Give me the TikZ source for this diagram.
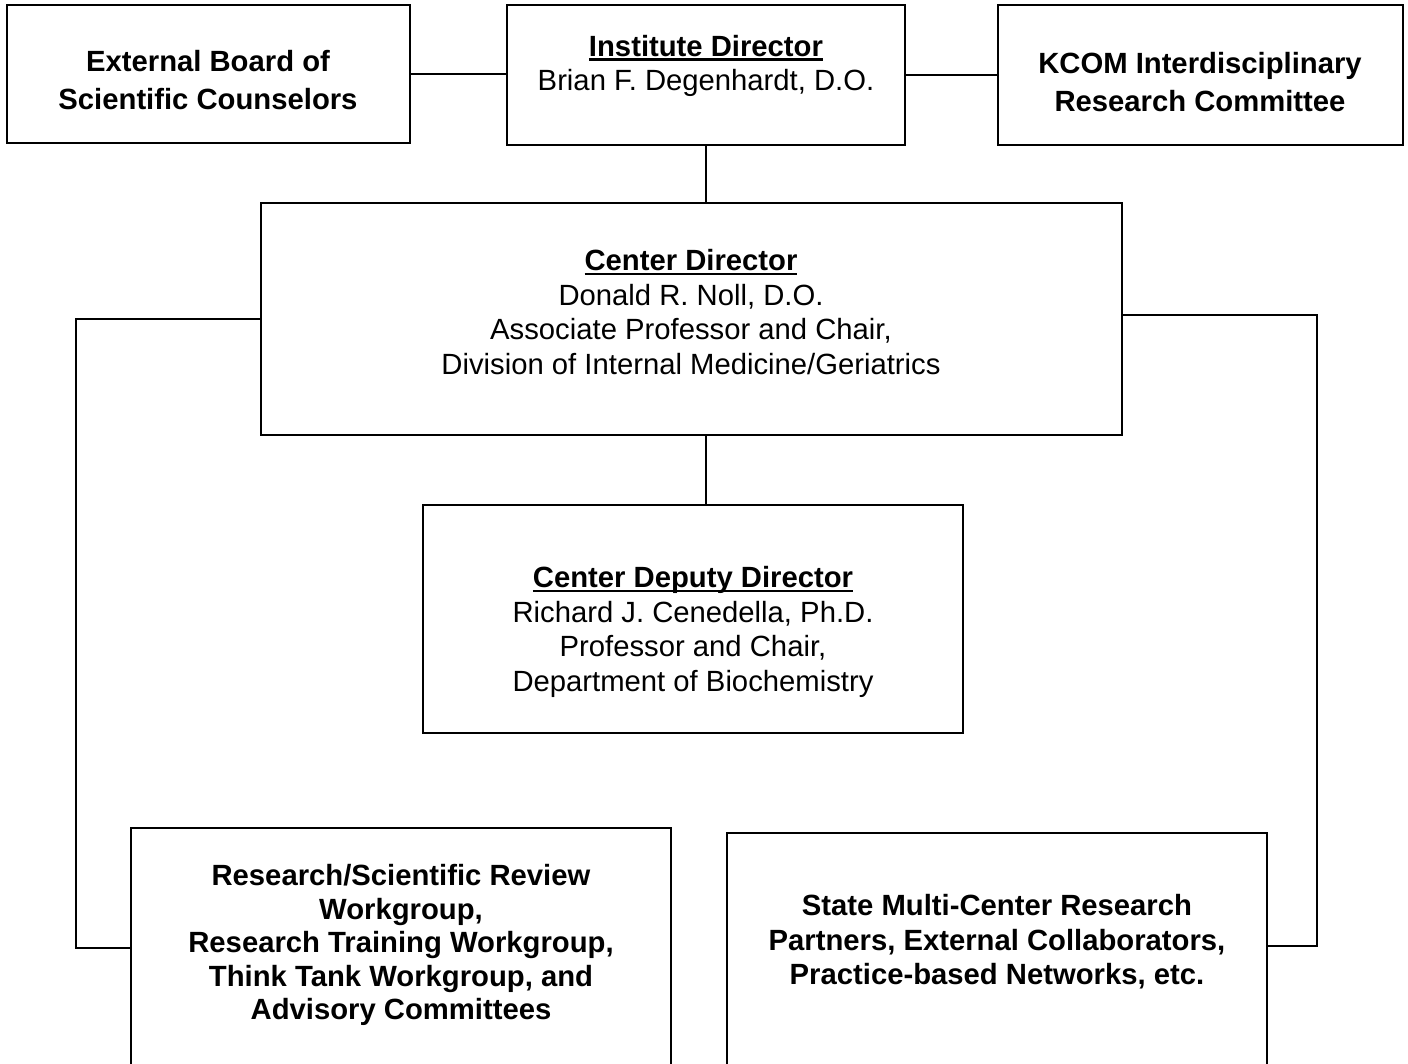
\documentclass[tikz,border=0pt]{standalone}
\usepackage{fontspec}
\setmainfont{Liberation Sans}
\usetikzlibrary{positioning}
\newcommand{\headul}[1]{\setbox0\hbox{\bfseries #1}\rlap{\rule[-3.2pt]{\wd0}{1.9pt}}\box0}

\begin{document}
\begin{tikzpicture}[x=0.025cm,y=-0.025cm,line width=1.2pt,
box/.style={rectangle, draw, inner sep=0pt},
txt/.style={align=center, font=\fontsize{20.8}{24.5}\selectfont, inner sep=0pt}] % box is the frame, txt is what is written in it
\useasboundingbox (0,0) rectangle (1408,1064);

% top row
\node[box, minimum width=403*0.025cm, minimum height=138*0.025cm](ext) at (208.5,74){};
\node[box, minimum width=398*0.025cm, minimum height=140*0.025cm](inst) at (706,75){};
\node[box, minimum width=405*0.025cm, minimum height=140*0.025cm](kcom) at (1200.5,75){};
\node[txt, font=\fontsize{20.8}{27.5}\selectfont\bfseries](ext-t) at (208,80){External Board of\\Scientific Counselors};
\node[txt](inst-t) at (706,66){\headul{Institute Director}\\Brian F. Degenhardt, D.O.};
\node[txt, font=\fontsize{20.8}{27}\selectfont\bfseries](kcom-t) at (1200,82){KCOM Interdisciplinary\\Research Committee};

% center and deputy
\node[box, minimum width=861*0.025cm, minimum height=232*0.025cm](ctr) at (691.5,319){};
\node[txt](ctr-t) at (691,312){\headul{Center Director}\\Donald R. Noll, D.O.\\Associate Professor and Chair,\\Division of Internal Medicine/Geriatrics};
\node[box, minimum width=540*0.025cm, minimum height=228*0.025cm](dep) at (693,619){};
\node[txt](dep-t) at (693,632){\headul{Center Deputy Director}\\Richard J. Cenedella, Ph.D.\\Professor and Chair,\\Department of Biochemistry};

% bottom row, the boxes run off the page
\node[box, minimum width=540*0.025cm, minimum height=247*0.025cm](res) at (401,951.5){};
\node[txt, font=\fontsize{20.8}{23.8}\selectfont\bfseries](res-t) at (401,945){Research/Scientific Review\\Workgroup,\\Research Training Workgroup,\\Think Tank Workgroup, and\\Advisory Committees};
\node[box, minimum width=540*0.025cm, minimum height=242*0.025cm](st) at (997,954){};
\node[txt, font=\fontsize{20.8}{24.5}\selectfont\bfseries](st-t) at (997,942){State Multi-Center Research\\Partners, External Collaborators,\\Practice-based Networks, etc.};

% connectors
\draw (ext.east) -- (ext.east -| inst.west);
\draw (inst.east) -- (inst.east -| kcom.west);
\draw (inst.south) -- (inst.south |- ctr.north);
\draw (inst.south |- ctr.south) -- (inst.south |- dep.north);
\draw (ctr.west) -- ++(-184,0) |- ([yshift=0.08cm]res.west); % left elbow
\draw ([yshift=0.1cm]ctr.east) -- ++(194,0) |- ([yshift=0.2cm]st.east); % right elbow
\end{tikzpicture}
\end{document}
